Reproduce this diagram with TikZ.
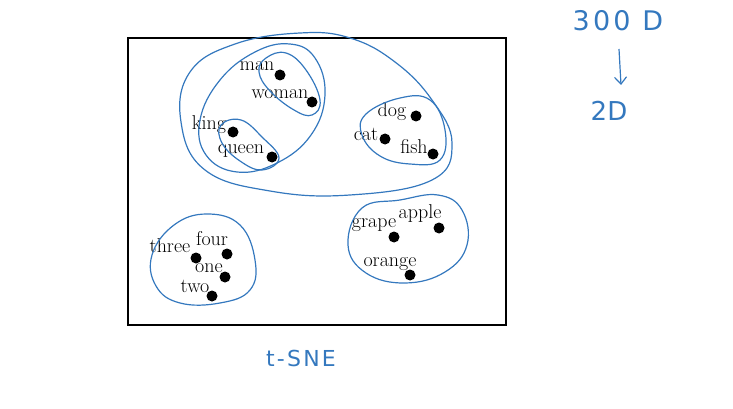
\documentclass[tikz,border=0pt]{standalone}
\usepackage{fontspec}
\newfontfamily\handfont{DejaVu Sans}[Scale=1]
\usetikzlibrary{arrows.meta}
\definecolor{pen}{RGB}{52,120,190}
\tikzset{
  dot/.style={circle,fill=black,inner sep=0pt,minimum size=11pt},
  lbl/.style={inner sep=0pt,font=\fontsize{20}{22}\selectfont},
  loop/.style={pen,line width=1.2pt},
  hand/.style={pen,inner sep=0pt,font=\handfont\fontsize{26}{28}\selectfont}
}
\begin{document}
\begin{tikzpicture}[x=1pt,y=-1pt]
\useasboundingbox (0,0) rectangle (733,409);
\node[draw=black,line width=1.3pt,minimum width=378pt,minimum height=287pt,inner sep=0pt] (frame) at (317,181.5) {};

% dots
\node[dot] (man) at (280,75) {};
\node[dot] (woman) at (312,102) {};
\node[dot] (king) at (233,132) {};
\node[dot] (queen) at (272,157) {};
\node[dot] (dog) at (416,116) {};
\node[dot] (cat) at (385,139) {};
\node[dot] (fish) at (433,154) {};
\node[dot] (apple) at (439,228) {};
\node[dot] (grape) at (394,237) {};
\node[dot] (orange) at (410,275) {};
\node[dot] (three) at (196,258) {};
\node[dot] (four) at (227,254) {};
\node[dot] (one) at (225,277) {};
\node[dot] (two) at (212,296) {};

% labels
\node[lbl] (lman) at (257,66) {man};
\node[lbl] (lwoman) at (280,94) {woman};
\node[lbl] (lking) at (209,125) {king};
\node[lbl] (lqueen) at (241,151) {queen};
\node[lbl] (ldog) at (392,112) {dog};
\node[lbl] (lcat) at (366,134) {cat};
\node[lbl] (lfish) at (414,147) {fish};
\node[lbl] (lapple) at (420,214) {apple};
\node[lbl] (lgrape) at (374,225) {grape};
\node[lbl] (lorange) at (390,264) {orange};
\node[lbl] (lthree) at (170,246) {three};
\node[lbl] (lfour) at (212,239) {four};
\node[lbl] (lone) at (209,268) {one};
\node[lbl] (ltwo) at (195,286) {two};

% hand-drawn loops
\draw[loop] plot[smooth cycle,tension=0.7] coordinates {(300,33) (350,38) (395,62) (432,100) (452,143) (432,180) (350,195) (270,191) (205,170) (181,122) (190,72) (235,44)};
\draw[loop] plot[smooth cycle,tension=0.7] coordinates {(290,44) (315,58) (325,95) (311,135) (277,163) (237,172) (206,155) (200,120) (220,80) (255,52)};
\draw[loop] plot[smooth cycle,tension=0.7] coordinates {(266,58) (286,53) (306,70) (320,100) (312,115) (294,110) (270,91) (259,72)};
\draw[loop] plot[smooth cycle,tension=0.7] coordinates {(221,125) (241,120) (262,137) (279,158) (262,170) (240,161) (222,143)};
\draw[loop] plot[smooth cycle,tension=0.7] coordinates {(366,114) (400,98) (430,100) (445,130) (440,160) (410,164) (380,156) (362,135)};
\draw[loop] plot[smooth cycle,tension=0.7] coordinates {(362,208) (400,200) (438,195) (462,210) (467,245) (445,272) (405,283) (366,273) (348,245)};
\draw[loop] plot[smooth cycle,tension=0.7] coordinates {(207,214) (240,225) (255,260) (250,290) (220,303) (180,303) (156,286) (152,255) (174,225)};

% handwritten notes
\node[hand,font=\handfont\fontsize{27}{29}\selectfont\addfontfeatures{LetterSpace=12}] (n300) at (618,21) {300 D};
\node[hand] (n2d) at (609,111) {2D};
\coordinate (atop) at (619,49);
\coordinate (abot) at (621,85);
\draw[loop,-{Straight Barb[length=7pt,width=12pt]}] (atop) -- (abot);
\node[hand,font=\handfont\fontsize{22}{24}\selectfont\addfontfeatures{LetterSpace=10}] (tsne) at (301,358) {t-SNE};
\end{tikzpicture}
\end{document}
